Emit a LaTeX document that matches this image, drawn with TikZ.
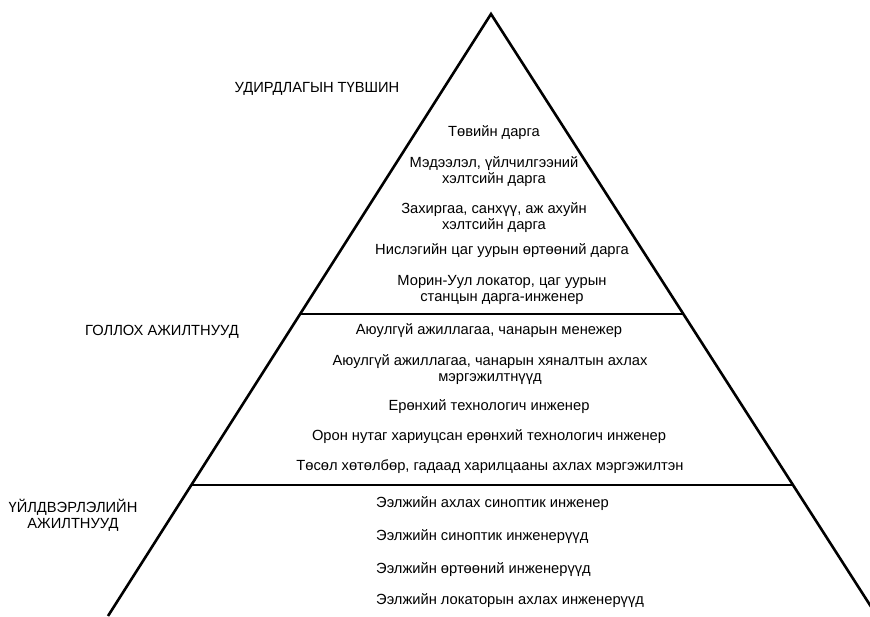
\documentclass[tikz,border=0pt]{standalone}
\usepackage{fontspec}
\setmainfont{Liberation Sans}
\begin{document}
\begin{tikzpicture}[x=1pt,y=-1pt,
  txt/.style={font=\fontsize{14.7}{16}\selectfont, align=center, inner sep=0pt},
  edge/.style={line width=2.6pt, black}]
\useasboundingbox (0,0) rectangle (870,616);
\begin{scope}
\clip (0,0) rectangle (870,616);
\coordinate (apex) at (491,14);
\coordinate (bl) at (108,616);
\coordinate (br) at (877,616);
\draw[edge, line join=miter] (bl) -- (apex) -- (br);
\coordinate (l1a) at (301,314);
\coordinate (l1b) at (684,314);
\coordinate (l2a) at (191,485);
\coordinate (l2b) at (792,485);
\draw[edge] (l1a) -- (l1b);
\draw[edge] (l2a) -- (l2b);
\end{scope}
% side labels
\node[txt] (lev1) at (317,89) {УДИРДЛАГЫН ТҮВШИН};
\node[txt] (lev2) at (162,332) {ГОЛЛОХ АЖИЛТНУУД};
\node[txt] (lev3) at (73,515) {ҮЙЛДВЭРЛЭЛИЙН\\АЖИЛТНУУД};
% top
\node[txt] (t1) at (494,133) {Төвийн дарга};
\node[txt] (t2) at (494,172) {Мэдээлэл, үйлчилгээний\\хэлтсийн дарга};
\node[txt] (t3) at (494,218) {Захиргаа, санхүү, аж ахуйн\\хэлтсийн дарга};
\node[txt] (t4) at (502,251) {Нислэгийн цаг уурын өртөөний дарга};
\node[txt] (t5) at (502,290) {Морин-Уул локатор, цаг уурын\\станцын дарга-инженер};
% middle
\node[txt] (m1) at (489,331) {Аюулгүй ажиллагаа, чанарын менежер};
\node[txt] (m2) at (490,370) {Аюулгүй ажиллагаа, чанарын хяналтын ахлах\\мэргэжилтнүүд};
\node[txt] (m3) at (489,407) {Ерөнхий технологич инженер};
\node[txt] (m4) at (489,437) {Орон нутаг хариуцсан ерөнхий технологич инженер};
\node[txt] (m5) at (490,467) {Төсөл хөтөлбөр, гадаад харилцааны ахлах мэргэжилтэн};
% bottom
\node[txt, anchor=west] (b1) at (376,504) {Ээлжийн ахлах синоптик инженер};
\node[txt, anchor=west] (b2) at (376,537) {Ээлжийн синоптик инженерүүд};
\node[txt, anchor=west] (b3) at (376,570) {Ээлжийн өртөөний инженерүүд};
\node[txt, anchor=west] (b4) at (376,601) {Ээлжийн локаторын ахлах инженерүүд};
\end{tikzpicture}
\end{document}
